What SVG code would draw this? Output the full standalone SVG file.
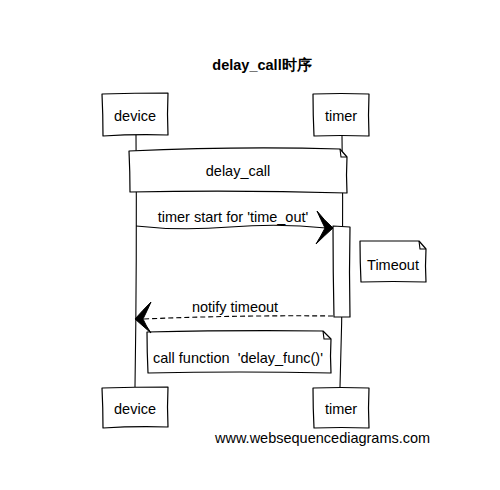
<svg xmlns="http://www.w3.org/2000/svg" width="500" height="490" viewBox="0 0 500 490">
<style>
.bx{fill:#fff;stroke:#000;stroke-width:1.2;stroke-linejoin:round}
.ln{fill:none;stroke:#000;stroke-width:1.1}
.t{font-family:"Liberation Sans",Arial,sans-serif;font-size:14.5px;fill:#000;white-space:pre}
.c{text-anchor:middle}
.ah{fill:#000;stroke:#000;stroke-width:1}
</style>
<rect width="500" height="490" fill="#fff"/>
<text class="t c" x="262" y="70" font-weight="bold" font-size="15">delay_call时序</text>
<g id="lifelines">
<path class="ln" d="M136,135 Q137,260 135,387"/>
<path class="ln" d="M342,136 Q344,260 340,387"/>
</g>
<g id="device-top"><path class="bx" d="M102,94 Q135,93 168,93 Q167,114 168,135 Q135,134 103,136 Q103,115 102,94 Z"/><text class="t c" x="135" y="121">device</text></g>
<g id="timer-top"><path class="bx" d="M313,94 Q341,93 369,94 Q368,115 369,136 Q341,135 314,136 Q313,115 313,94 Z"/><text class="t c" x="341" y="121">timer</text></g>
<g id="note-delay"><path class="bx" d="M129,151 Q240,146 340,149 L347,157 Q346,175 347,193 Q240,190 130,192 Q130,172 129,151 Z"/><path class="ln" d="M340,149 L341,157 L347,157"/><text class="t c" x="238" y="176">delay_call</text></g>
<g id="activation"><path class="bx" d="M333,226 L350,227 Q349,272 350,317 L334,317 Q333,272 333,226 Z"/></g>
<g id="note-timeout"><path class="bx" d="M360,241 L419,241 L426,249 Q425,266 426,282 Q393,281 361,282 Q360,262 360,241 Z"/><path class="ln" d="M419,241 L420,249 L426,249"/><text class="t c" x="393" y="270">Timeout</text></g>
<g id="note-call"><path class="bx" d="M147,332 Q240,330 323,331 L331,339 Q330,356 331,373 Q240,371 148,373 Q147,352 147,332 Z"/><path class="ln" d="M323,331 L324,339 L331,339"/><text class="t" x="153" y="363" xml:space="preserve">call function  'delay_func()'</text></g>
<g id="device-bottom"><path class="bx" d="M102,388 Q135,387 168,387 Q167,407 168,427 Q135,426 103,428 Q103,408 102,388 Z"/><text class="t c" x="135" y="414">device</text></g>
<g id="timer-bottom"><path class="bx" d="M313,388 Q341,387 369,388 Q368,408 369,428 Q341,427 314,428 Q313,408 313,388 Z"/><text class="t c" x="341" y="414">timer</text></g>
<g id="connectors">
<path class="ln" d="M136,226 Q180,231 230,227 Q280,223 326,228"/>
<path class="ah" d="M333,228 Q324,220 317,211 Q321,220 325,228 Q321,236 316,244 Q324,236 333,228 Z"/>
<text class="t c" x="233" y="222">timer start for 'time_out'</text>
<path class="ln" stroke-dasharray="5,3" d="M333,316 Q240,315 143,319"/>
<path class="ah" d="M135,319 Q143,310 151,302 Q147,311 143,319 Q146,326 151,333 Q143,326 135,319 Z"/>
<text class="t c" x="235" y="312">notify timeout</text>
</g>
<text class="t" x="215" y="443">www.websequencediagrams.com</text>
</svg>
